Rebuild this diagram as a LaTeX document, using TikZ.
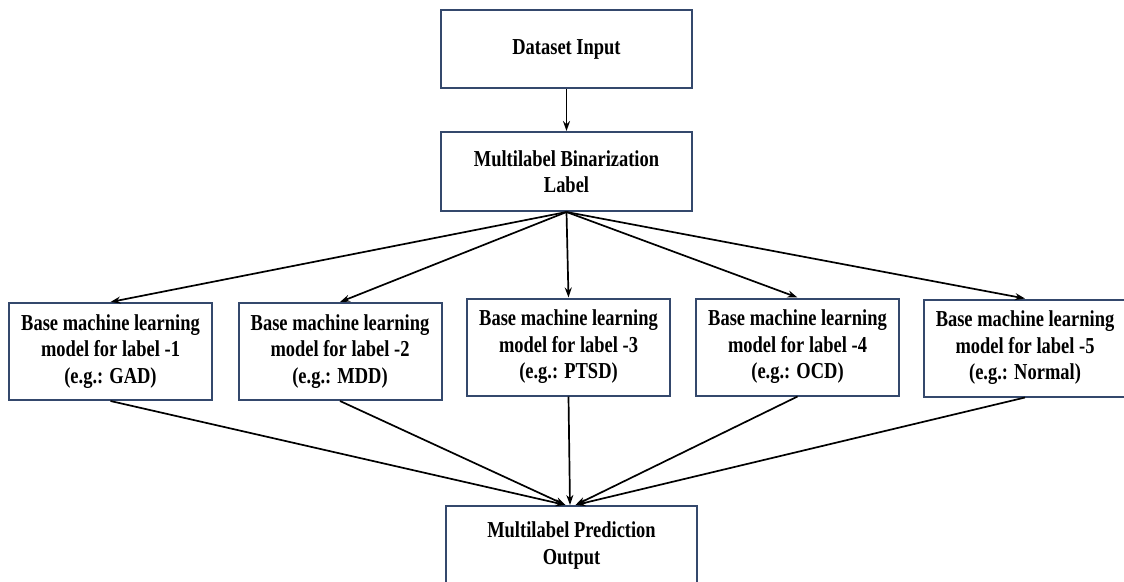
\documentclass[tikz,border=0pt]{standalone}
\usepackage{fontspec}
\setmainfont{Liberation Serif}[FakeStretch=0.81]
\usetikzlibrary{arrows.meta,calc}
\definecolor{boxline}{RGB}{52,72,108}
\begin{document}
\begin{tikzpicture}[x=1pt,y=-1pt,
  box/.style={draw=boxline,line width=2pt,fill=white,align=center,inner sep=0pt,
    font=\fontsize{22.8}{26.5}\selectfont\bfseries},
  wide/.style={box,minimum width=251pt,minimum height=79pt},
  base/.style={box,minimum width=203pt,minimum height=97pt},
  conn/.style={line width=1.7pt,-{Stealth[length=10pt,width=7pt]}}]
\useasboundingbox (0,0) rectangle (1124,581);
\node[wide,minimum height=78pt] (in) at (566.5,49) {Dataset Input};
\node[wide] (bin) at (566.5,171.5) {Multilabel Binarization\\Label};
\node[base] (b1) at (110.5,351.5) {Base machine learning\\model for label -1\\(e.g.: GAD)};
\node[base] (b2) at (340,351.5) {Base machine learning\\model for label -2\\(e.g.: MDD)};
\node[base] (b3) at (568.5,347) {Base machine learning\\model for label -3\\(e.g.: PTSD)};
\node[base] (b4) at (797.5,347) {Base machine learning\\model for label -4\\(e.g.: OCD)};
\node[base,minimum width=202pt] (b5) at (1025,348) {Base machine learning\\model for label -5\\(e.g.: Normal)};
\node[wide] (out) at (571.5,545.5) {Multilabel Prediction\\Output};
\coordinate (inl) at ($(out.north)+(-6,0)$);
\coordinate (inc) at ($(out.north)+(-1.5,0)$);
\coordinate (inr) at ($(out.north)+(4,0)$);
\draw[conn] (in.south) -- (bin.north);
\foreach \b in {b1,b2,b3,b4,b5} \draw[conn] (bin.south) -- (\b.north);
\draw[conn] (b1.south) -- (inl);
\draw[conn] (b2.south) -- (inl);
\draw[conn] (b3.south) -- (inc);
\draw[conn] (b4.south) -- (inr);
\draw[conn] (b5.south) -- (inr);
\end{tikzpicture}
\end{document}
